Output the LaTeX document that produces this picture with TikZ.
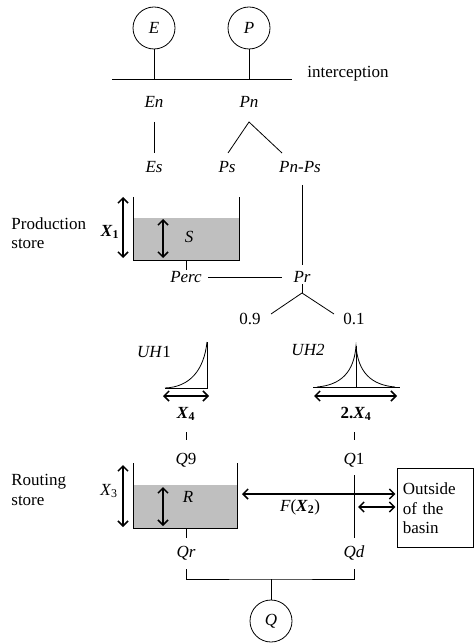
\documentclass[tikz,border=0pt]{standalone}
\usepackage{fontspec}
\setmainfont{Liberation Serif}
\usetikzlibrary{arrows.meta}
\begin{document}
\begin{tikzpicture}[x=1pt,y=-1pt,line width=0.8pt,
 every node/.style={font=\fontsize{17}{19.5}\selectfont,inner sep=0pt},
 var/.style={font=\fontsize{17}{19.5}\selectfont\itshape},
 flux/.style={draw,circle,minimum size=42pt},
 gauge/.style={line width=1.5pt,<->,>={Straight Barb[length=5pt,width=10pt]}},
 water/.style={fill=black!25,draw=none}]
 \useasboundingbox (0,0) rectangle (475,644);
 \node[flux] (E) at (154,28) {\textit{E}};
 \node[flux] (P) at (249,28) {\textit{P}};
 \coordinate (icL) at (112,79);
 \coordinate (icR) at (292,79);
 \draw (icL) -- (icR);
 \draw (E) -- (E |- icL);
 \draw (P) -- (P |- icL);
 \node[anchor=west] (ic) at (307,74) {interception};
 \node[var] (En) at (154,102) {En};
 \node[var] (Pn) at (249,102) {Pn};
 \node[var] (Es) at (154,167) {Es};
 \node[var] (Ps) at (227,167) {Ps};
 \node[var] (PnPs) at (300,167) {Pn-Ps};
 \draw ([yshift=-20pt]En.center) -- ([yshift=14pt]Es.center);
 \coordinate (fkP) at ([yshift=-20pt]Pn.center);
 \draw ([shift={(1pt,14pt)}]Ps.center) -- (fkP) -- ([shift={(-18pt,14pt)}]PnPs.center);
 \fill[water] (133,218) rectangle (239,260);
 \draw (133,197) -- (133,260) -- (239,260) -- (239,197);
 \draw[gauge] (123,197) -- (123,258);
 \draw[gauge] (163,219) -- (163,258);
 \node[var] (S) at (189,237) {S};
 \node (X1) at (110,232) {\textbf{\textit{X}\textsubscript{1}}};
 \node[anchor=west,align=left] (prod) at (11,233) {Production\\store};
 \node[var] (Perc) at (186,277) {Perc};
 \node[var] (Pr) at (302,277) {Pr};
 \coordinate (psOut) at (186,260);
 \draw (psOut) -- ([yshift=7pt]Perc.center);
 \draw ([xshift=22pt]Perc.center) -- ([xshift=-20pt]Pr.center);
 \draw ([shift={(2pt,-18pt)}]PnPs.center) -- ([yshift=12pt]Pr.center);
 \coordinate (fkR) at ([yshift=-16pt]Pr.center);
 \draw ([yshift=-7pt]Pr.center) -- (fkR);
 \node (r09) at (250,319) {0.9};
 \node (r01) at (354,319) {0.1};
 \draw ([shift={(21pt,5pt)}]r09.center) -- (fkR) -- ([shift={(-20pt,5pt)}]r01.center);
 \node[var] (uh1) at (154,352) {UH\textup{1}};
 \draw (165,388) -- (207,388) -- (207,342);
 \draw (165,388) .. controls (190,387) and (204,370) .. (207,342);
 \draw[gauge] (163,396) -- (209,396);
 \node (X4) at (186,414) {\textbf{\textit{X}\textsubscript{4}}};
 \node[var] (uh2) at (308,350) {UH2};
 \draw (313,387) -- (400,387);
 \draw (356,346) -- (356,387);
 \draw (317,387) .. controls (341,385) and (354,372) .. (356,346) .. controls (358,372) and (371,385) .. (395,387);
 \draw[gauge] (314,396) -- (397,396);
 \node (X4b) at (356,414) {\textbf{2.\textit{X}\textsubscript{4}}};
 \node[var] (Q9) at (186,460) {Q\textup{9}};
 \node[var] (Q1) at (354,460) {Q\textup{1}};
 \draw ([yshift=-18pt]X4.center) -- ([yshift=20pt]Q9.center);
 \draw ([shift={(-2pt,-18pt)}]X4b.center) -- ([yshift=20pt]Q1.center);
 \fill[water] (133,485) rectangle (237,528);
 \draw (133,463) -- (133,528) -- (237,528) -- (237,463);
 \draw[gauge] (123,465) -- (123,527);
 \draw[gauge] (163,487) -- (163,526);
 \node[var] (R) at (188,497) {R};
 \node (X3) at (109,491) {\textit{X}\textsubscript{3}};
 \node[anchor=west,align=left] (rout) at (11,490) {Routing\\store};
 \node[draw,anchor=north west,text width=66pt,minimum height=79pt,inner xsep=5pt,align=left] (out) at (397.4,468.4) {Outside\\of the\\basin};
 \coordinate (rsWall) at (237,494);
 \draw[gauge,shorten <=5pt,shorten >=2pt] (rsWall) -- (out.west |- rsWall);
 \node (FX2) at (300,507) {\textit{F}(\textbf{\textit{X}\textsubscript{2}})};
 \coordinate (fxs) at (358,507);
 \draw[gauge,shorten >=2pt] (fxs) -- (out.west |- fxs);
 \node[var] (Qr) at (186,553) {Qr};
 \node[var] (Qd) at (354,553) {Qd};
 \draw ([yshift=-15pt]Q1.center) -- ([yshift=15pt]Qd.center);
 \coordinate (rsOut) at (186,528);
 \draw (rsOut) -- ([yshift=15pt]Qr.center);
 \coordinate (bj) at (271,579);
 \draw ([yshift=-16pt]Qr.center) |- (bj) -| ([yshift=-16pt]Qd.center);
 \node[flux] (Q) at (271,621) {\textit{Q}};
 \draw (bj) -- (Q);
\end{tikzpicture}
\end{document}
